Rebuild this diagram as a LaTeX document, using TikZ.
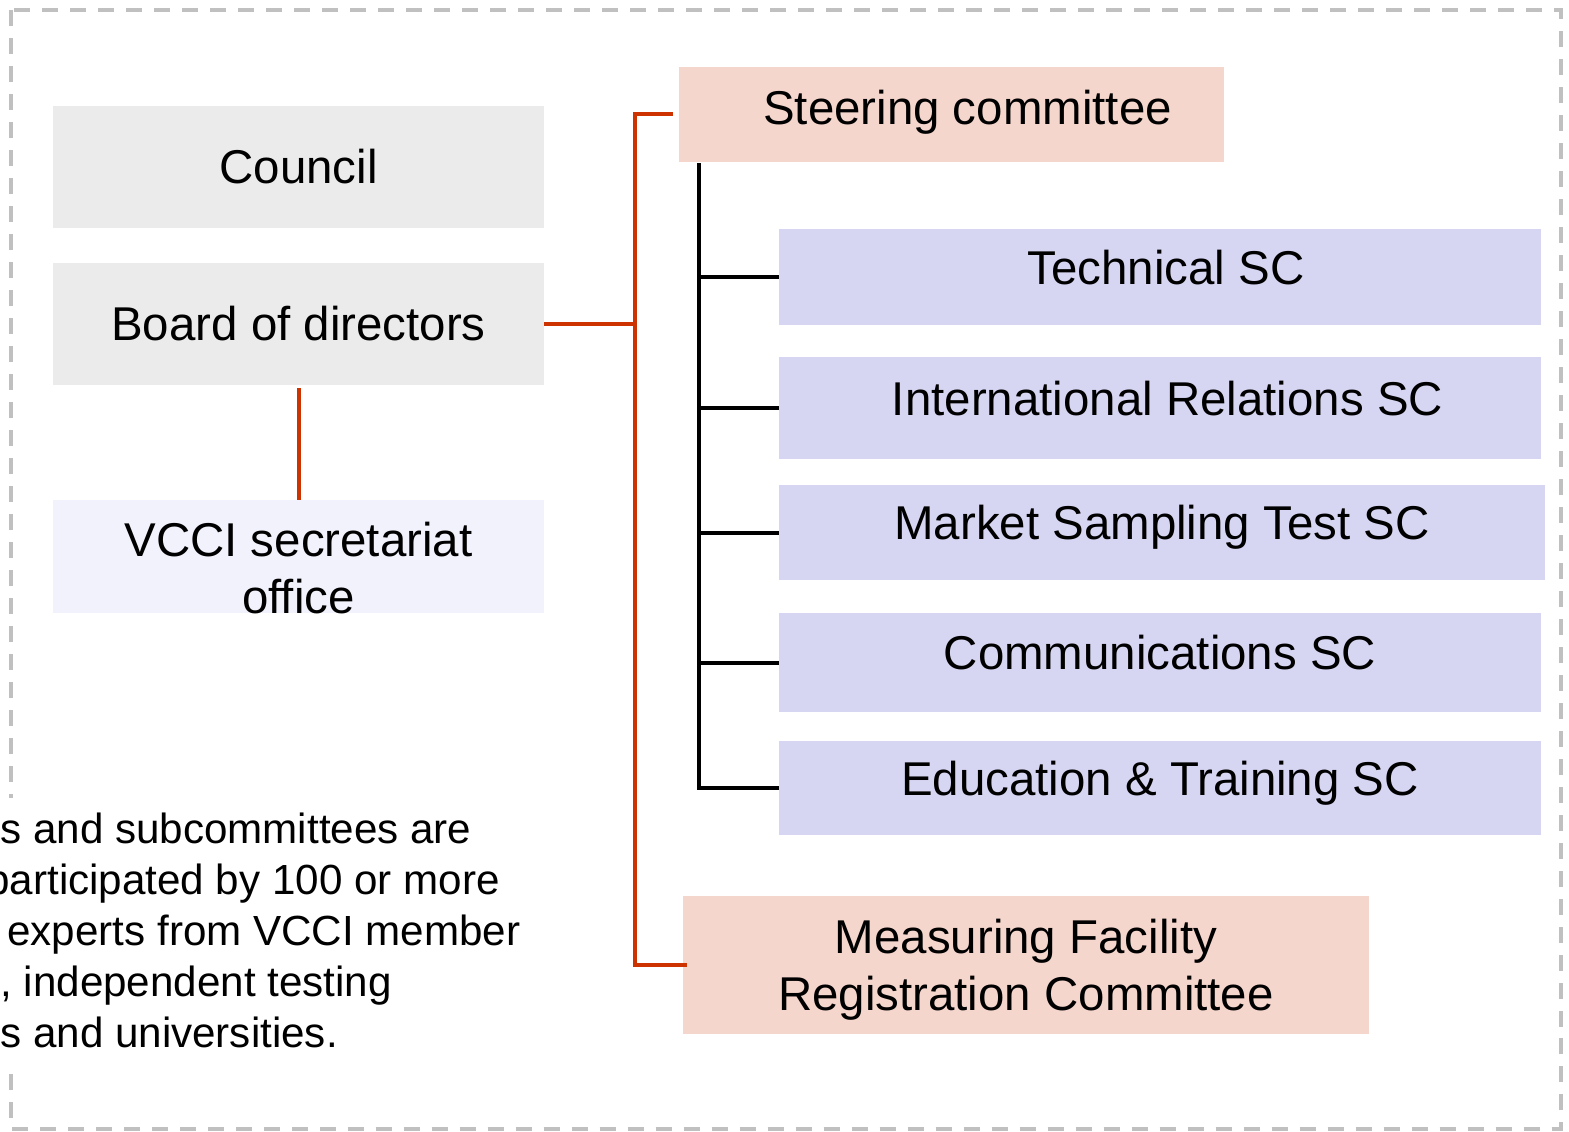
\documentclass[tikz,border=0pt]{standalone}
\usepackage{fontspec}
\setmainfont{Liberation Sans}
\definecolor{boxgray}{HTML}{EBEBEB}
\definecolor{paleblue}{HTML}{F2F2FC}
\definecolor{salmon}{HTML}{F5D6CC}
\definecolor{lavender}{HTML}{D6D5F2}
\definecolor{vred}{HTML}{CC3300}
\definecolor{bordergray}{HTML}{C0C0C0}
\tikzset{
    box/.style={rectangle, inner sep=0pt, align=center, font=\fontsize{27}{32.4}\selectfont},
    greybox/.style={box, fill=boxgray, minimum width=9.82cm, minimum height=2.44cm},
    scbox/.style={box, fill=lavender, minimum width=15.24cm, text height=20.25pt, text depth=12.15pt},
    redline/.style={draw=vred, line width=0.08cm},
    blackline/.style={draw=black, line width=0.08cm},
    border/.style={draw=bordergray, line width=0.07cm, dash pattern=on 0.32cm off 0.24cm},
    note/.style={fill=white, inner sep=0.3cm, align=left, font=\fontsize{24}{29}\selectfont}
}

\begin{document}
\begin{tikzpicture}[x=0.02cm, y=-0.02cm]

    \useasboundingbox (0,0) rectangle (1569,1132);
    \clip (0,0) rectangle (1569,1132);
    \draw[border] (11,10) rectangle (1561,1129);

    \node[greybox] (council) at (298.5,167) {Council};
    \node[greybox] (board) at (298.5,324) {Board of directors};
    \node[box, fill=paleblue, minimum width=9.82cm, minimum height=2.22cm, text height=64.4pt, text depth=-4pt] (vcci) at (298.5,556.5) {VCCI secretariat\\office};

    \node[box, fill=salmon, minimum width=10.9cm, minimum height=1.9cm, text height=20.25pt, text depth=8.85pt] (steer) at (951.5,114.5) {\hspace*{0.64cm}Steering committee};
    \node[scbox, minimum height=1.92cm] (tech) at (1160,277) {\hspace*{0.24cm}Technical SC};
    \node[scbox, minimum height=2.04cm] (intl) at (1160,408) {\hspace*{0.3cm}International Relations SC};
    \node[scbox, minimum height=1.9cm, minimum width=15.32cm] (market) at (1162,532.5) {Market Sampling Test SC};
    \node[scbox, minimum height=1.98cm] (comm) at (1160,662.5) {Communications SC};
    \node[scbox, minimum height=1.88cm] (edu) at (1160,788) {Education \& Training SC};
    \node[box, fill=salmon, minimum width=13.72cm, minimum height=2.76cm, text depth=0pt] (meas) at (1026,965) {Measuring Facility\\Registration Committee};

    \coordinate (bus) at (635,324);
    \coordinate (spine) at (699,163);
    \draw[redline] (board.east) -- (bus);
    \draw[redline] ([xshift=-0.12cm]steer.west) -| (bus) |- ([xshift=0.08cm]meas.west);
    \draw[redline, shorten <=0.06cm] (board.south) -- (vcci.north);

    \draw[blackline] (spine) |- (edu.west);
    \foreach \n in {tech,intl,market,comm}
        \draw[blackline] (spine |- \n.west) -- (\n.west);

    \node[note, anchor=base west] (remark) at (-15,1047) {s and subcommittees are\\\hspace*{-0.28cm}participated by 100 or more\\\hspace*{0.14cm}experts from VCCI member\\, independent testing\\s and universities.};
\end{tikzpicture}
\end{document}
